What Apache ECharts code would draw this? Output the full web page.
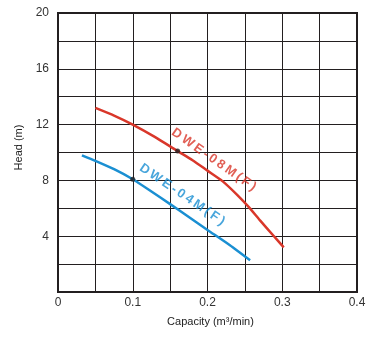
<!DOCTYPE html>
<html>
<head>
<meta charset="utf-8">
<script src="https://cdn.jsdelivr.net/npm/echarts@6/dist/echarts.min.js"></script>
<style>
html,body{margin:0;padding:0;background:#fff;}
#c{width:384px;height:340px;}
</style>
</head>
<body>
<div id="c"></div>
<script>
// Data
var redCurve = [[0.05,13.2],[0.075,12.65],[0.1,12.0],[0.13,11.1],[0.16,10.1],[0.18,9.45],[0.2,8.7],[0.22,7.95],[0.24,6.95],[0.255,6.1],[0.27,5.15],[0.288,4.05],[0.302,3.2]];
var blueCurve = [[0.032,9.8],[0.05,9.4],[0.075,8.8],[0.1,8.08],[0.125,7.2],[0.15,6.3],[0.175,5.38],[0.2,4.45],[0.23,3.35],[0.257,2.27]];
var markerPoints = [[0.16,10.1],[0.1,8.08]];
var redLabelName = 'DWE-08M(F)';
var blueLabelName = 'DWE-04M(F)';
var redLabelAnchor = [0.2085, 9.48];
var blueLabelAnchor = [0.166, 6.98];
var xTickLabels = ['0','0.1','0.2','0.3','0.4'];
var yTickLabels = ['4','8','12','16','20'];

function spaced(s){ return s.split('').join('\u2009'); }

var chart = echarts.init(document.getElementById('c'), null, {renderer:'canvas'});
var axisLabelStyle = {color:'#333', fontFamily:'Liberation Sans, Arial, sans-serif', fontSize:12};
chart.setOption({
  animation:false,
  backgroundColor:'#fff',
  grid:{left:58, right:27, top:13, bottom:48, show:true, borderColor:'#231f20', borderWidth:2, backgroundColor:'transparent'},
  xAxis:{
    type:'value', min:0, max:0.4, interval:0.05,
    name:'Capacity (m³/min)', nameLocation:'middle', nameGap:24,
    nameTextStyle:{color:'#222', fontFamily:'Liberation Sans, Arial, sans-serif', fontSize:11, padding:[0,0,0,6]},
    axisLine:{show:true, lineStyle:{color:'#231f20', width:2}},
    axisTick:{show:false},
    splitLine:{show:true, lineStyle:{color:'#231f20', width:1}},
    axisLabel:Object.assign({margin:5, formatter:function(v){
      var i = Math.round(v/0.1);
      if (Math.abs(v/0.1 - i) > 1e-6) return '';
      return xTickLabels[i] || '';
    }, showMinLabel:true, showMaxLabel:true}, axisLabelStyle)
  },
  yAxis:{
    type:'value', min:0, max:20, interval:2,
    name:'Head (m)', nameLocation:'middle', nameGap:34, nameRotate:90,
    nameTextStyle:{color:'#222', fontFamily:'Liberation Sans, Arial, sans-serif', fontSize:11, padding:[0,0,0,10]},
    axisLine:{show:true, lineStyle:{color:'#231f20', width:2}},
    axisTick:{show:false},
    splitLine:{show:true, lineStyle:{color:'#231f20', width:1}},
    axisLabel:Object.assign({margin:9, formatter:function(v){
      if (v === 0 || v % 4 !== 0) return '';
      return yTickLabels[v/4 - 1] || '';
    }}, axisLabelStyle)
  },
  series:[
    {type:'line', data:redCurve, smooth:0.2, showSymbol:false, lineStyle:{color:'#d9372a', width:2.5}, z:3},
    {type:'line', data:blueCurve, smooth:0.2, showSymbol:false, lineStyle:{color:'#1a8fd2', width:2.5}, z:3},
    {type:'scatter', data:markerPoints, symbolSize:5, itemStyle:{color:'#231f20'}, z:5},
    {type:'scatter', data:[redLabelAnchor], symbolSize:1, itemStyle:{color:'transparent'}, z:6,
      label:{show:true, position:'inside', rotate:-35, formatter:spaced(redLabelName),
        color:'#d9372a', fontWeight:'bold', fontSize:13, fontFamily:'Liberation Sans, Arial, sans-serif'}},
    {type:'scatter', data:[blueLabelAnchor], symbolSize:1, itemStyle:{color:'transparent'}, z:6,
      label:{show:true, position:'inside', rotate:-34, formatter:spaced(blueLabelName),
        color:'#1a8fd2', fontWeight:'bold', fontSize:13, fontFamily:'Liberation Sans, Arial, sans-serif'}}
  ]
});
</script>
</body>
</html>
